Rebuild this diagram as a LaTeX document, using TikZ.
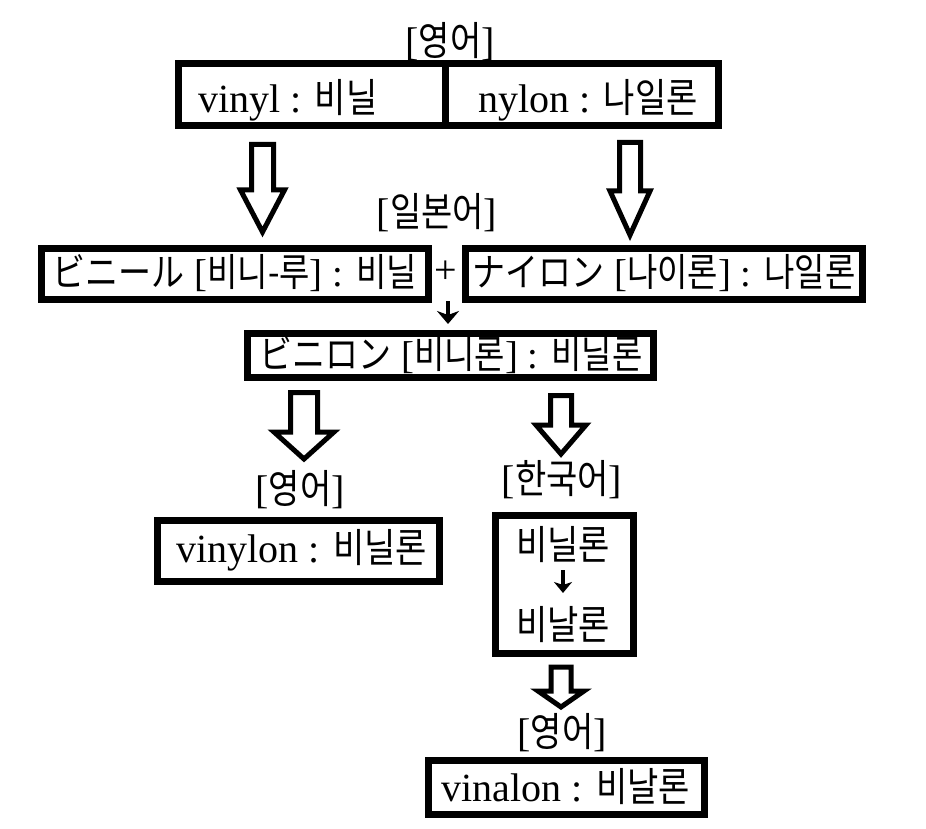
\documentclass[tikz,border=0pt]{standalone}
\usepackage{fontspec}
\setmainfont{Liberation Serif}
\newfontfamily\kr{Noto Sans CJK KR}[FakeStretch=0.85,Scale=1.0]
\usetikzlibrary{arrows.meta}
\tikzset{
  boxnode/.style={draw,line width=7pt,inner sep=0pt},
  txt/.style={inner sep=0pt,font=\fontsize{40}{46}\selectfont},
  jtxt/.style={inner sep=0pt,font=\fontsize{38.8}{44}\selectfont},
  blockarrow/.style={draw,line width=5pt,line join=miter,miter limit=10},
  smallarrow/.style={line width=4.5pt,-{Stealth[length=13pt,width=22pt,inset=4pt]}}
}
\newcommand\barrow[6]{%
  \draw[blockarrow] (#1-#2,#4) -- (#1+#2,#4) -- (#1+#2,#5) -- (#1+#3,#5) -- (#1,#6) -- (#1-#3,#5) -- (#1-#2,#5) -- cycle;}
\begin{document}
\begin{tikzpicture}[x=1pt,y=-1pt]
\useasboundingbox (0,0) rectangle (926,829);
% boxes
\node[boxnode,minimum width=266.5pt,minimum height=62pt] (tl) at (311.75,94.5) {};
\node[boxnode,minimum width=273.5pt,minimum height=62pt] (tr) at (581.75,94.5) {};
\node[boxnode,minimum width=387pt,minimum height=51pt] (jl) at (235,274) {};
\node[boxnode,minimum width=397pt,minimum height=51pt] (jr) at (664,274) {};
\node[boxnode,minimum width=406pt,minimum height=44pt] (mid) at (450.5,355.5) {};
\node[boxnode,minimum width=282pt,minimum height=61pt] (vy) at (298.5,551) {};
\node[boxnode,minimum width=138pt,minimum height=138pt] (kb) at (564.5,584.5) {};
\node[boxnode,minimum width=276pt,minimum height=54pt] (va) at (566,787.5) {};
% texts
\node[txt] (l0) at (450,42) {[{\kr 영어}]};
\node[txt,anchor=west] (t1) at (198,100) {vinyl : {\kr 비닐}};
\node[txt,anchor=west] (t2) at (478,100) {nylon : {\kr 나일론}};
\node[txt] (l1) at (437,213) {[{\kr 일본어}]};
\node[jtxt] (t3) at (235,273) {{\kr ビニール} [{\kr 비니-루}] : {\kr 비닐}};
\node[txt] (plus) at (446,272) {+};
\node[jtxt] (t4) at (664,273) {{\kr ナイロン} [{\kr 나이론}] : {\kr 나일론}};
\node[jtxt] (t5) at (451,355) {{\kr ビニロン} [{\kr 비니론}] : {\kr 비닐론}};
\node[txt] (l2) at (300,490) {[{\kr 영어}]};
\node[txt] (l3) at (562,480) {[{\kr 한국어}]};
\node[txt] (t6) at (302,550) {vinylon : {\kr 비닐론}};
\node[txt] (t7) at (563,545) {{\kr 비닐론}};
\node[txt] (t8) at (563,625) {{\kr 비날론}};
\node[txt] (l4) at (562,733) {[{\kr 영어}]};
\node[txt] (t9) at (566,787) {vinalon : {\kr 비날론}};
% block arrows
\barrow{262.5}{11}{22}{144.5}{190}{232}
\barrow{630}{10.5}{20}{142.5}{191}{235}
\barrow{304}{13.5}{30}{392.5}{432}{459}
\barrow{561}{10.5}{25}{395.5}{425}{454}
\barrow{561}{10}{23}{667}{691}{707}
% small arrows
\coordinate (s1) at (448,301);
\coordinate (e1) at (448,324);
\draw[smallarrow] (s1) -- (e1);
\coordinate (s2) at (563,570);
\coordinate (e2) at (563,593);
\draw[smallarrow,line width=4pt,-{Stealth[length=11pt,width=18pt,inset=3pt]}] (s2) -- (e2);
\end{tikzpicture}
\end{document}
